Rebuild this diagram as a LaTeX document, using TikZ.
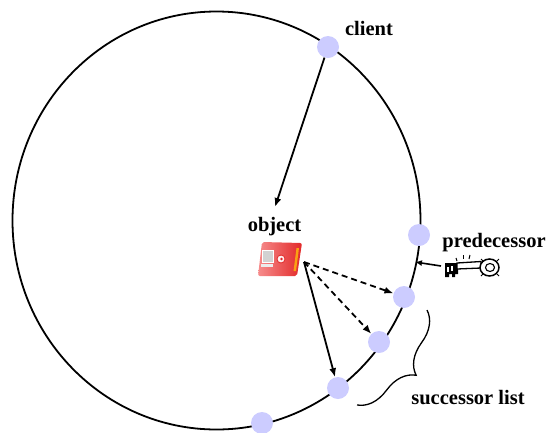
\documentclass[tikz,border=0pt]{standalone}
\usepackage{fontspec}
\setmainfont{Liberation Serif}
\usetikzlibrary{arrows.meta,decorations.pathreplacing}
\definecolor{peer}{RGB}{204,204,255}
\definecolor{cardred}{RGB}{226,40,40}
\definecolor{cardpink}{RGB}{246,140,140}
\definecolor{stripe}{RGB}{250,160,20}
\begin{document}
\begin{tikzpicture}[x=1pt,y=-1pt,
  peernode/.style={circle,fill=peer,draw=none,minimum size=22pt,inner sep=0pt},
  lbl/.style={font=\bfseries\fontsize{20.5}{24}\selectfont,anchor=base,inner sep=0pt},
  ring/.style={line width=1.8pt},
  arr/.style={line width=1.8pt,-{Latex[length=9pt,width=7pt]}},
  dasharr/.style={arr,dash pattern=on 6pt off 4pt}]
\useasboundingbox (0,0) rectangle (549,432);

% the identifier ring
\draw[ring] (216.5,220.5) ellipse [x radius=204pt, y radius=209pt];

% peers on the ring
\node[peernode] (client) at (328,47) {};
\node[peernode] (pred)   at (419,235) {};
\node[peernode] (succA)  at (404,297) {};
\node[peernode] (succB)  at (379,342) {};
\node[peernode] (succC)  at (338,388) {};
\node[peernode] (other)  at (262,423) {};

% labels
\node[lbl] (clientlbl) at (369,35) {client};
\node[lbl] (objlbl)    at (274.5,231) {object};
\node[lbl] (predlbl)   at (494,247) {predecessor};
\node[lbl] (succlbl)   at (468,404) {successor list};

% object icon: a slanted red card
\begin{scope}
  \shade[left color=cardpink,right color=cardred,rounded corners=2pt]
    (262,242) -- (302,243) -- (297,276) -- (258,276) -- cycle;
  \fill[stripe] (296.5,248) -- (299,248) -- (296,271) -- (293.5,271) -- cycle;
  \fill[gray!35,draw=white,line width=0.6pt] (262,250) rectangle (273,262);
  \fill[white!85!gray] (261,264) rectangle (273,267);
  \fill[white!80!pink,draw=cardred,line width=0.8pt] (281,259) circle (4pt);
  \fill[cardred] (281.5,259) circle (1.4pt);
\end{scope}
\coordinate (obj) at (304,262);
\coordinate (objtop) at (275,207);

% lookup: client to the object's key position
\draw[arr] (client) -- (objtop);

% object replicated at the successors
\draw[dasharr] (obj) -- (succA);
\draw[dasharr] (obj) -- (succB);
\draw[arr] (obj) -- (succC);

% key handed to the predecessor
\coordinate (keytip) at (415,262);
\coordinate (keyend) at (441,266);
\draw[arr,line width=1.6pt,-{Latex[length=7pt,width=6pt]}] (keyend) -- (keytip);
\begin{scope}[line width=1pt]
  % bit with teeth
  \fill (445,263) -- (458,263) -- (458,274) -- (455,274) -- (455,277)
     -- (452,277) -- (452,274) -- (449,274) -- (449,277) -- (445,277) -- cycle;
  \fill[white] (447,267) rectangle (449,272);
  \fill[white] (451,266) rectangle (453,271);
  % shaft
  \draw[fill=white,line width=1.3pt] (457,263) -- (481,261.5) -- (481,268) -- (457,269) -- cycle;
  % bow
  \draw[fill=white,line width=1.5pt] (489.5,267.5) ellipse [x radius=9.5pt, y radius=8.5pt];
  \draw[line width=1.1pt] (490,267.5) ellipse [x radius=4.5pt, y radius=4pt];
  \draw (483,261) -- (481,259) (483,274) -- (481,276) (497,261) -- (499,259) (497,274) -- (499,276);
  % glint
  \draw (456,258) -- (457,261);
  \draw (463,255) -- (463,259);
  \draw (470,255) -- (469,259);
\end{scope}

% successor list brace
\draw[line width=1.3pt,decorate,decoration={brace,amplitude=30pt}]
  (427,310) -- (357,405);
\end{tikzpicture}
\end{document}
